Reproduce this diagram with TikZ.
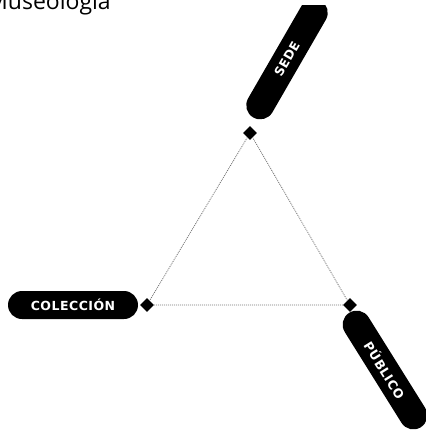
\documentclass[tikz,border=0pt]{standalone}
\usepackage{fontspec}
\setmainfont{Open Sans}
\newfontfamily\pillfont[LetterSpace=4]{DejaVu Sans}
\usetikzlibrary{shapes.geometric}
\begin{document}
\begin{tikzpicture}[
  x=1pt, y=1pt,
  pill/.style={rectangle, rounded corners=14pt, fill=black, text=white,
    minimum height=28pt, inner sep=0pt,
    font=\pillfont\bfseries\fontsize{12.5}{12.5}\selectfont},
  vdot/.style={diamond, fill=black, minimum size=14pt, inner sep=0pt},
  tline/.style={dash pattern=on 1pt off 1pt, black!55, line width=0.8pt}
]
  \useasboundingbox (0,0) rectangle (426,-432);
  \clip (0,0) rectangle (426,-432);
  \node[anchor=base west, inner sep=0pt, font=\fontsize{23}{23}\selectfont] (title) at (-13,-9) {Museología};

  \node[vdot] (d1) at (250,-133) {};
  \node[vdot] (d2) at (147,-305) {};
  \node[vdot] (d3) at (350,-305) {};
  \draw[tline] (d1) -- (d2) -- (d3) -- (d1);

  \begin{scope}
    \clip (0,-5) rectangle (426,-432);
    \node[pill, rotate=60, minimum width=135pt] (sede) at (287,-59) {SEDE};
  \end{scope}
  \node[pill, minimum width=130pt] (col) at (73,-305) {COLECCIÓN};
  \node[pill, rotate=-58, minimum width=135pt] (pub) at (385,-370) {PÚBLICO};
\end{tikzpicture}
\end{document}
